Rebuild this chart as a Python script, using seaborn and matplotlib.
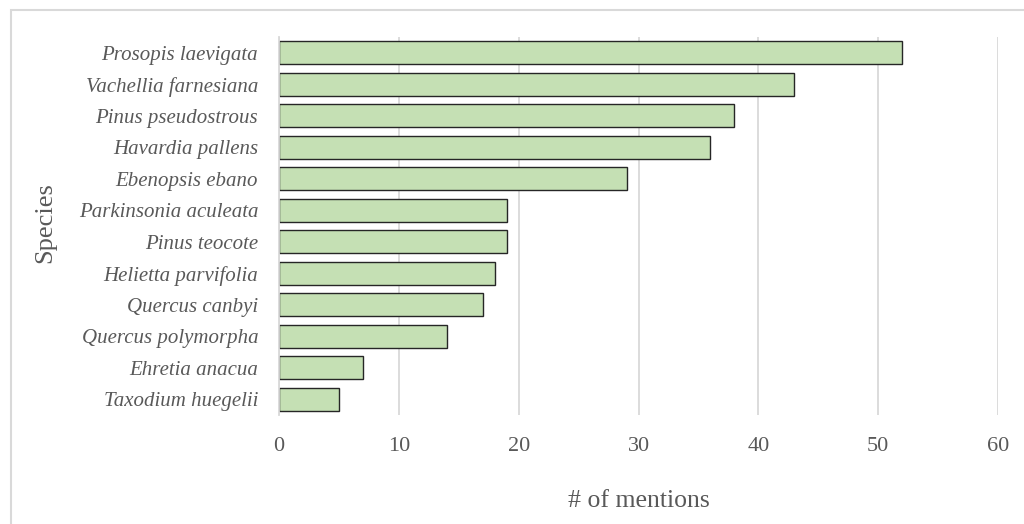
import matplotlib
matplotlib.use("Agg")
import matplotlib.pyplot as plt
import seaborn as sns
import pandas as pd
from matplotlib.patches import Rectangle

species = [
    "Prosopis laevigata", "Vachellia farnesiana", "Pinus pseudostrous",
    "Havardia pallens", "Ebenopsis ebano", "Parkinsonia aculeata",
    "Pinus teocote", "Helietta parvifolia", "Quercus canbyi",
    "Quercus polymorpha", "Ehretia anacua", "Taxodium huegelii",
]
mentions = [52, 43, 38, 36, 29, 19, 19, 18, 17, 14, 7, 5]
x_ticks = [0, 10, 20, 30, 40, 50, 60]

df = pd.DataFrame({"Species": species, "Mentions": mentions})

sns.set_theme(style="white")
plt.rcParams["font.family"] = ["Liberation Serif", "DejaVu Serif"]

text_color = "#595959"
grid_color = "#d9d9d9"

fig = plt.figure(figsize=(10.24, 5.24), dpi=100)
ax = fig.add_axes([0.2725, 0.208, 0.7021, 0.7214])

sns.barplot(data=df, x="Mentions", y="Species", orient="h",
            color="#c5e0b4", edgecolor="#262626", linewidth=1.0,
            width=0.73, saturation=1, ax=ax)

ax.set_xlim(0, 60)
ax.set_xticks(x_ticks)
ax.set_xticklabels([str(t) for t in x_ticks], color=text_color, fontsize=16)
ax.set_ylim(len(species) - 0.5, -0.5)
ax.set_yticks(range(len(species)))
ax.set_yticklabels(species, style="italic", color=text_color, fontsize=15)
ax.tick_params(axis="both", length=0)
ax.tick_params(axis="x", pad=16)
ax.tick_params(axis="y", pad=15)

ax.xaxis.grid(True, color=grid_color, linewidth=1.3)
ax.yaxis.grid(False)
ax.set_axisbelow(True)
for side in ["top", "right", "bottom"]:
    ax.spines[side].set_visible(False)
ax.spines["left"].set_color(grid_color)
ax.spines["left"].set_linewidth(1.3)

ax.set_xlabel("# of mentions", color=text_color, fontsize=18.5, labelpad=24)
ax.set_ylabel("Species", color=text_color, fontsize=19)
ax.yaxis.set_label_coords(-0.31, 0.51)

# light frame around the chart area
fig.patches.append(Rectangle((11 / 1024, -0.05), 1.1, 1 - 10 / 524 + 0.05,
                             transform=fig.transFigure, fill=False,
                             edgecolor=grid_color, linewidth=1.5))

fig.savefig("out.png", dpi=100)
